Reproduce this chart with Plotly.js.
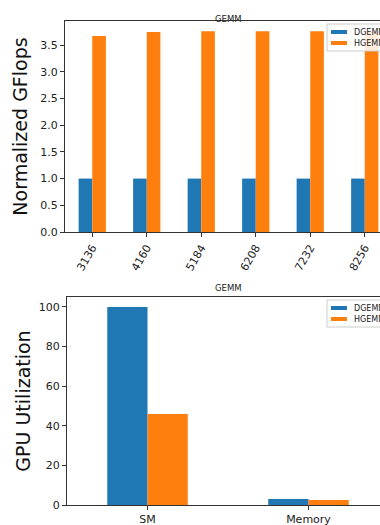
<!DOCTYPE html>
<html>
<head>
<meta charset="utf-8">
<script src="https://cdn.plot.ly/plotly-3.0.1.min.js"></script>
<style>
  html, body { margin: 0; padding: 0; overflow: hidden; background: #fff; }
  #chart { width: 392px; height: 525px; }
</style>
</head>
<body>
<div id="chart"></div>
<script>
// Normalized throughput per matrix size
const sizes = ['3136', '4160', '5184', '6208', '7232', '8256'];
const dgemmFlops = [1.0, 1.0, 1.0, 1.0, 1.0, 1.0];
const hgemmFlops = [3.67, 3.745, 3.76, 3.76, 3.76, 3.76];

// GPU utilization (%)
const resources = ['SM', 'Memory'];
const dgemmUtil = [100, 3.0];
const hgemmUtil = [46, 2.5];

const seriesNames = ['DGEMM', 'HGEMM'];
const seriesColors = ['#1f77b4', '#ff7f0e'];
const font = 'DejaVu Sans, sans-serif';
const W = 392, H = 525;

const traces = [
  { type: 'bar', x: sizes, y: dgemmFlops, name: seriesNames[0], marker: { color: seriesColors[0] },
    xaxis: 'x', yaxis: 'y' },
  { type: 'bar', x: sizes, y: hgemmFlops, name: seriesNames[1], marker: { color: seriesColors[1] },
    xaxis: 'x', yaxis: 'y' },
  { type: 'bar', x: resources, y: dgemmUtil, name: seriesNames[0], marker: { color: seriesColors[0] },
    xaxis: 'x2', yaxis: 'y2' },
  { type: 'bar', x: resources, y: hgemmUtil, name: seriesNames[1], marker: { color: seriesColors[1] },
    xaxis: 'x2', yaxis: 'y2' }
];

const axisBase = {
  showline: true, mirror: true, linecolor: '#333', linewidth: 1,
  ticks: 'outside', ticklen: 4, tickcolor: '#333',
  showgrid: false, zeroline: false,
  tickfont: { family: font, size: 11, color: '#222' }
};

// Compact boxed legend: one swatch + label per series, placed in pixel units
const px = v => v / W;
const py = v => 1 - v / H;
const shapes = [];
const annotations = [];
function addLegend(boxTop, firstRowTop) {
  shapes.push({ type: 'rect', xref: 'paper', yref: 'paper',
    x0: px(327), x1: px(W + 2), y0: py(boxTop + 27), y1: py(boxTop),
    line: { color: '#ccc', width: 1 }, fillcolor: 'rgba(255,255,255,0.85)', layer: 'above' });
  seriesNames.forEach((name, i) => {
    const top = firstRowTop + i * 11;
    shapes.push({ type: 'rect', xref: 'paper', yref: 'paper',
      x0: px(331), x1: px(347), y0: py(top + 4), y1: py(top),
      line: { width: 0 }, fillcolor: seriesColors[i], layer: 'above' });
    annotations.push({ text: name, xref: 'paper', yref: 'paper',
      x: px(352), y: py(top + 2), xanchor: 'left', yanchor: 'middle', showarrow: false,
      font: { family: font, size: 8, color: '#222' } });
  });
}
addLegend(24, 30);
addLegend(300, 306);

annotations.push(
  { text: 'GEMM', xref: 'paper', yref: 'paper', x: (65 + W) / 2 / W, y: py(12),
    showarrow: false, font: { family: font, size: 8.5, color: '#222' } },
  { text: 'GEMM', xref: 'paper', yref: 'paper', x: (67 + 389) / 2 / W, y: py(288),
    showarrow: false, font: { family: font, size: 8.5, color: '#222' } }
);

const layout = {
  width: W, height: H,
  margin: { l: 0, r: 0, t: 0, b: 0 },
  paper_bgcolor: '#fff', plot_bgcolor: '#fff',
  barmode: 'group', bargap: 0.5, bargroupgap: 0,
  showlegend: false,
  xaxis: Object.assign({}, axisBase, {
    type: 'category', domain: [65 / W, 1], anchor: 'y', tickangle: -60, range: [-0.5, 5.5]
  }),
  yaxis: Object.assign({}, axisBase, {
    domain: [py(232), py(21)], anchor: 'x', range: [0, 3.95],
    tickvals: [0, 0.5, 1, 1.5, 2, 2.5, 3, 3.5], tickformat: '.1f',
    title: { text: 'Normalized GFlops', font: { family: font, size: 19, color: '#111' }, standoff: 7 }
  }),
  xaxis2: Object.assign({}, axisBase, {
    type: 'category', domain: [67 / W, 389 / W], anchor: 'y2', range: [-0.5, 1.5]
  }),
  yaxis2: Object.assign({}, axisBase, {
    domain: [py(505), py(297)], anchor: 'x2', range: [0, 105],
    tickvals: [0, 20, 40, 60, 80, 100],
    title: { text: 'GPU Utilization', font: { family: font, size: 19, color: '#111' }, standoff: 3 }
  }),
  shapes: shapes,
  annotations: annotations
};

Plotly.newPlot('chart', traces, layout, { displayModeBar: false, staticPlot: true });
</script>
</body>
</html>
